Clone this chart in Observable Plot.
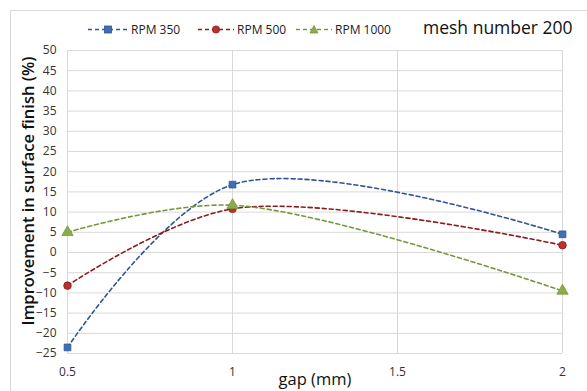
<!DOCTYPE html>
<html><head><meta charset="utf-8">
<script src="https://cdn.jsdelivr.net/npm/d3@7"></script>
<script src="https://cdn.jsdelivr.net/npm/@observablehq/plot@0.6"></script>
<style>
html,body{margin:0;padding:0;background:#fff;}
#wrap{position:relative;width:587px;height:391px;overflow:hidden;font-family:"Open Sans",sans-serif;}
#frame{position:absolute;left:10px;top:10px;width:600px;height:400px;border:1px solid #d9d9d9;box-sizing:border-box;}
#legend{position:absolute;top:21px;left:88px;font-size:12px;color:#222;white-space:nowrap;}
#legend span.item{position:absolute;top:0;display:flex;align-items:center;}
#title{position:absolute;top:15px;left:423px;font-size:17.5px;color:#111;white-space:nowrap;}
#ylab{position:absolute;left:27px;top:191px;transform:translate(-50%,-50%) rotate(-90deg);font-size:16.5px;font-weight:600;color:#111;white-space:nowrap;}
#xlab{position:absolute;left:315px;top:367px;transform:translateX(-50%);font-size:16.5px;color:#111;white-space:nowrap;}
svg{position:absolute;left:0;top:0;}
</style></head>
<body><div id="wrap"><div id="frame"></div></div>
<script>
const gaps = [0.5, 1, 2];
const seriesNames = ["RPM 350", "RPM 500", "RPM 1000"];
const rpm350 = [-23.5, 16.8, 4.5];
const rpm500 = [-8.2, 10.8, 1.8];
const rpm1000 = [5.0, 11.7, -9.5];
const yTicks = [-25,-20,-15,-10,-5,0,5,10,15,20,25,30,35,40,45,50];
const xTicks = [0.5, 1, 1.5, 2];
const lineColors = ["#2f5597", "#8b1c1c", "#76973a"];
const markColors = ["#3e6fb0", "#b8312f", "#8aad4a"];
const symbols = ["square", "circle", "triangle"];

const all = [rpm350, rpm500, rpm1000];
const data = [];
all.forEach((vals, si) => vals.forEach((v, i) => data.push({series: seriesNames[si], gap: gaps[i], value: v})));

const plot = Plot.plot({
  width: 587, height: 391,
  marginLeft: 67, marginRight: 25, marginTop: 50, marginBottom: 38,
  style: {fontFamily: "Open Sans, sans-serif", fontSize: "12px", color: "#333", background: "transparent"},
  x: {domain: [0.5, 2], ticks: xTicks, tickSize: 0, tickPadding: 14, label: null, tickFormat: d => String(d)},
  y: {domain: [-25, 50], ticks: yTicks, tickSize: 0, tickPadding: 11, label: null},
  marks: [
    Plot.gridY(yTicks, {stroke: "#d9d9d9", strokeOpacity: 1}),
    Plot.gridX(xTicks, {stroke: "#d9d9d9", strokeOpacity: 1}),
    ...seriesNames.map((s, si) => Plot.line(data.filter(d => d.series === s), {
      x: "gap", y: "value", curve: "catmull-rom", stroke: lineColors[si], strokeWidth: 1.6, strokeDasharray: "4,3"
    })),
    ...seriesNames.map((s, si) => Plot.dot(data.filter(d => d.series === s), {
      x: "gap", y: "value", symbol: symbols[si], fill: markColors[si], stroke: lineColors[si], strokeWidth: 0.8, r: si === 2 ? 4.2 : 3.8
    }))
  ]
});
const wrap = document.getElementById("wrap");
wrap.appendChild(plot);

// legend
const leg = document.createElement("div");
leg.id = "legend";
const lx = [0, 110, 208];
seriesNames.forEach((s, si) => {
  const it = document.createElement("span");
  it.className = "item";
  it.style.left = lx[si] + "px";
  const w = si === 0 ? 40 : 36;
  let sym;
  if (si === 0) sym = `<rect x="${w/2-3.5}" y="4" width="7" height="7" fill="${markColors[0]}" stroke="${lineColors[0]}" stroke-width="0.8"/>`;
  else if (si === 1) sym = `<circle cx="${w/2}" cy="7.5" r="3.6" fill="${markColors[1]}" stroke="${lineColors[1]}" stroke-width="0.8"/>`;
  else sym = `<path d="M${w/2},3.5 L${w/2+4},11 L${w/2-4},11 Z" fill="${markColors[2]}" stroke="${lineColors[2]}" stroke-width="0.8"/>`;
  it.innerHTML = `<svg width="${w}" height="15" style="position:static"><line x1="0" x2="${w}" y1="7.5" y2="7.5" stroke="${lineColors[si]}" stroke-width="1.6" stroke-dasharray="4,3"/>${sym}</svg><span style="margin-left:3px">${s}</span>`;
  leg.appendChild(it);
});
wrap.appendChild(leg);

const t = document.createElement("div"); t.id = "title"; t.textContent = "mesh number 200"; wrap.appendChild(t);
const yl = document.createElement("div"); yl.id = "ylab"; yl.textContent = "Improvement in surface finish (%)"; wrap.appendChild(yl);
const xl = document.createElement("div"); xl.id = "xlab"; xl.textContent = "gap (mm)"; wrap.appendChild(xl);
</script>
</body></html>
